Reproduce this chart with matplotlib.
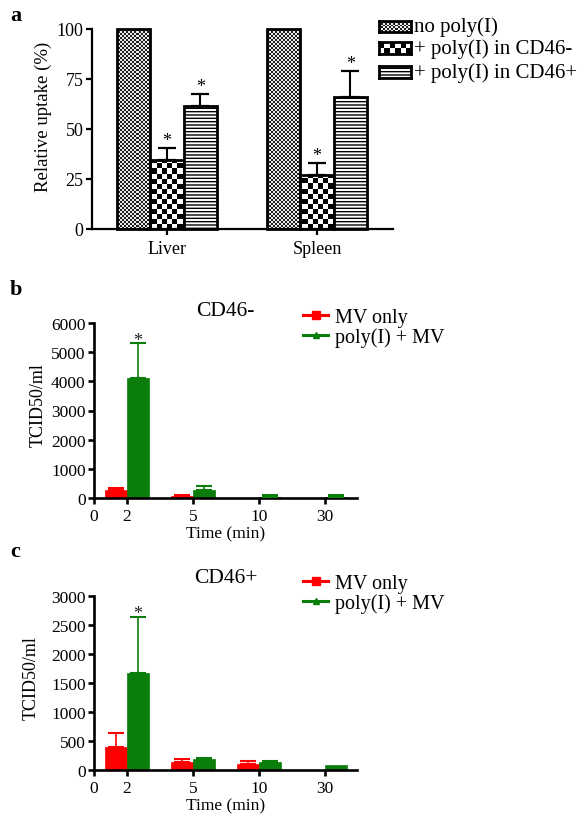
import numpy as np
import matplotlib
matplotlib.use("Agg")
import matplotlib.pyplot as plt
from matplotlib.lines import Line2D
from matplotlib.patches import Rectangle

plt.rcParams["font.family"] = ["Liberation Serif", "DejaVu Serif"]

# ---- panel a: relative uptake ----
organs = ["Liver", "Spleen"]
uptake_labels = ["no poly(I)", "+ poly(I) in CD46-", "+ poly(I) in CD46+"]
uptake_no_poly = [100.0, 100.0]
uptake_cd46neg = [34.7, 27.2]
uptake_cd46pos = [61.7, 66.0]
uptake_err_cd46neg = [6.0, 6.0]
uptake_err_cd46pos = [5.8, 13.2]

# ---- panels b/c: TCID50 over time ----
times = ["2", "5", "10", "30"]
series_labels = ["MV only", "poly(I) + MV"]
neg_mv = [286, 70, 0, 0]
neg_mv_err = [69, 40, 0, 0]
neg_poly = [4122, 286, 50, 50]
neg_poly_err = [1191, 138, 45, 45]
pos_mv = [396, 143, 98, 0]
pos_mv_err = [241, 46, 57, 0]
pos_poly = [1681, 195, 143, 86]
pos_poly_err = [963, 17, 6, 0]

RED = "#ff0000"
GREEN = "#0a7d0a"
W, H = 587, 820

fig = plt.figure(figsize=(W / 100, H / 100), dpi=100)


def px_axes(left, top, right, bottom):
	return fig.add_axes([left / W, 1 - bottom / H, (right - left) / W, (bottom - top) / H])


def checker(h_px, w_px, cell, lo, hi):
	rows = max(int(round(h_px / cell)), 1)
	cols = max(int(round(w_px / cell)), 1)
	yy, xx = np.indices((rows, cols))
	return np.where((yy + xx) % 2 == 0, lo, hi)


def style_axes(ax, lw, size):
	ax.spines["top"].set_visible(False)
	ax.spines["right"].set_visible(False)
	ax.spines["left"].set_linewidth(lw)
	ax.spines["bottom"].set_linewidth(lw)
	ax.tick_params(axis="both", width=lw, length=4.5, labelsize=size, pad=1.5)


# ---------------- panel a ----------------
ax_a = px_axes(92, 30, 393, 230)
xlim_a = (-0.5, 1.507)
x = np.arange(len(organs))
bw = 0.222
fine = checker(200, 301, 2, 0.12, 0.92)
coarse = checker(200, 301, 5, 0.0, 1.0)

series_a = [uptake_no_poly, uptake_cd46neg, uptake_cd46pos]
errs_a = [None, uptake_err_cd46neg, uptake_err_cd46pos]
patterns = [fine, coarse, None]
for i, (vals, err, pat) in enumerate(zip(series_a, errs_a, patterns)):
	pos = x + (i - 1) * bw
	if pat is None:
		ax_a.bar(pos, vals, bw, facecolor="white", edgecolor="black", hatch="-----",
			lw=2, zorder=2, clip_on=False)
	else:
		bars = ax_a.bar(pos, vals, bw, facecolor="none", edgecolor="black", lw=2,
			zorder=2, clip_on=False)
		for b in bars:
			im = ax_a.imshow(pat, cmap="gray", vmin=0, vmax=1, interpolation="nearest",
				extent=(xlim_a[0], xlim_a[1], 0, 100), aspect="auto", zorder=1)
			im.set_clip_path(b)
	if err is not None:
		ax_a.errorbar(pos, vals, yerr=[np.zeros(len(err)), err], fmt="none", ecolor="black",
			elinewidth=1.5, capsize=6.5, capthick=1.6, zorder=3)
		for px, v, e in zip(pos, vals, err):
			ax_a.annotate("*", (px, v + e), xytext=(0, 2), textcoords="offset points",
				ha="center", va="baseline", fontsize=13)

ax_a.set_xlim(*xlim_a)
ax_a.set_ylim(0, 100)
ax_a.set_xticks(x, organs)
ax_a.set_yticks([0, 25, 50, 75, 100])
style_axes(ax_a, 1.6, 13)
ax_a.tick_params(axis="x", pad=3.5)
ax_a.set_ylabel("Relative uptake (%)", fontsize=13.5)
ax_a.yaxis.set_label_coords(-0.133, 0.565)

# legend swatches for panel a
rows_a = [(22, 33), (43, 55), (67, 79)]
swatch_pats = [fine[:6, :16], coarse[:2, :6], None]
for (top, bot), label, pat in zip(rows_a, uptake_labels, swatch_pats):
	sw = px_axes(379, top, 411, bot)
	sw.set_xlim(0, 1)
	sw.set_ylim(0, 1)
	if pat is None:
		sw.add_patch(Rectangle((0, 0), 1, 1, facecolor="white", edgecolor="black",
			hatch="-----", lw=0))
	else:
		sw.imshow(pat, cmap="gray", vmin=0, vmax=1, interpolation="nearest",
			extent=(0, 1, 0, 1), aspect="auto")
	sw.set_xticks([])
	sw.set_yticks([])
	for s in sw.spines.values():
		s.set_linewidth(2)
	fig.text(414 / W, 1 - (top + bot) / 2 / H, label, va="center", ha="left", fontsize=15)


# ---------------- panels b and c ----------------
def time_panel(top, bottom, mv, mv_err, poly, poly_err, ymax, ystep, title, tpad, star_off, leg_top):
	ax = px_axes(94, top, 357, bottom)
	cats = np.arange(len(times)) + 0.5
	w = 0.33
	for vals, err, col, shift in [(mv, mv_err, RED, -w / 2), (poly, poly_err, GREEN, w / 2)]:
		vals = np.asarray(vals, float)
		err = np.asarray(err, float)
		pos = cats + shift
		ax.bar(pos, vals, w, color=col, edgecolor=col, lw=0.5, zorder=2)
		m = (vals > 0) & (err > 0)
		ax.errorbar(pos[m], vals[m], yerr=[np.zeros(m.sum()), err[m]], fmt="none", ecolor=col,
			elinewidth=1.2, capsize=6, capthick=1.5, zorder=3)
	# significance mark on the 2 min poly(I) bar
	ax.annotate("*", (cats[0] + w / 2, poly[0] + poly_err[0]), xytext=(0, star_off),
		textcoords="offset points", ha="center", va="baseline", fontsize=13, color="#222222")
	ax.set_xlim(0, 3.985)
	ax.set_ylim(0, ymax)
	ax.set_xticks(np.r_[0, cats], ["0"] + times)
	ax.set_yticks(np.arange(0, ymax + 1, ystep))
	style_axes(ax, 1.9, 12.5)
	ax.tick_params(axis="x", pad=3)
	ax.set_title(title, fontsize=15.5, pad=tpad)
	ax.set_xlabel("Time (min)", fontsize=12.5, labelpad=1)
	ax.set_ylabel("TCID50/ml", fontsize=13)
	handles = [
		Line2D([], [], color=RED, lw=2.2, marker="s", ms=6),
		Line2D([], [], color=GREEN, lw=2.2, marker="^", ms=5),
	]
	ax.legend(handles, series_labels, loc="upper left", bbox_to_anchor=(303 / W, 1 - leg_top / H),
		bbox_transform=fig.transFigure, frameon=False, fontsize=14.5, handlelength=1.25,
		handletextpad=0.35, labelspacing=0.0, borderpad=0, borderaxespad=0, numpoints=1)
	return ax


ax_b = time_panel(324, 499, neg_mv, neg_mv_err, neg_poly, neg_poly_err, 6000, 1000,
	"CD46-", 5.5, -1.7, 309)
ax_b.yaxis.set_label_coords(-0.179, 0.537)
ax_c = time_panel(597, 771, pos_mv, pos_mv_err, pos_poly, pos_poly_err, 3000, 500,
	"CD46+", 10, -1.0, 575)
ax_c.yaxis.set_label_coords(-0.205, 0.534)

for lab, yb in [("a", 20.7), ("b", 295), ("c", 557)]:
	fig.text(10 / W, 1 - yb / H, lab, fontsize=16, fontweight="bold", va="baseline", ha="left")

fig.savefig("out.png", dpi=100)
